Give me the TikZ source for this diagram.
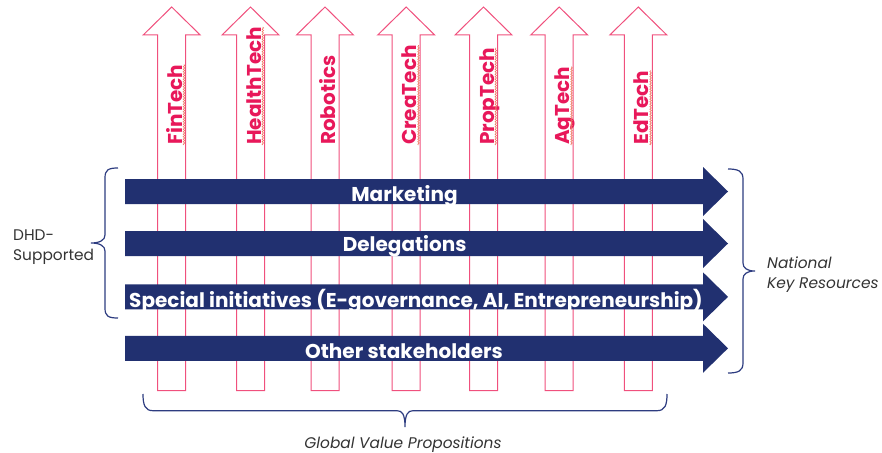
\documentclass[tikz,border=0pt]{standalone}
\usepackage{fontspec}
\setmainfont{Poppins}
\usetikzlibrary{decorations.pathmorphing}
\definecolor{navy}{RGB}{33,48,112}
\definecolor{pinkline}{RGB}{240,80,125}
\definecolor{pinktext}{RGB}{232,24,90}
\definecolor{bracecol}{RGB}{45,60,128}
\definecolor{greytext}{RGB}{51,51,51}
\definecolor{squig}{RGB}{240,120,100}
\tikzset{
  uparrow/.style={draw=pinkline, fill=white, line width=1pt},
  pinklab/.style={text=pinktext, font=\fontsize{20}{24}\selectfont\bfseries, inner sep=0pt, rotate=90, anchor=base west},
  squiggle/.style={draw=squig, line width=0.6pt, decorate, decoration={snake, segment length=2.5pt, amplitude=0.8pt}},
  bluelab/.style={text=white, font=\fontsize{20}{24}\selectfont\bfseries, inner sep=0pt, anchor=base},
  bracestyle/.style={draw=bracecol, line width=1.2pt},
  sidelab/.style={text=greytext, font=\fontsize{15.4}{19}\selectfont, inner sep=0pt, anchor=base west},
  sidelabit/.style={sidelab, font=\fontsize{15.4}{19}\selectfont\itshape},
}
\begin{document}
\begin{tikzpicture}[x=1pt,y=-1pt]
\useasboundingbox (0,0) rectangle (882,452);
% pink upward arrows
\foreach \n/\cx/\lab/\sq in {fin/171.7/FinTech/1, health/250.5/HealthTech/1, robo/325/Robotics/0, crea/406.2/CreaTech/1, prop/483.5/PropTech/1, ag/559.2/AgTech/1, ed/638.3/EdTech/1}{
  \draw[uparrow] (\cx-14,390.7) -- (\cx-14,35) -- (\cx-28.5,35) -- (\cx,7) -- (\cx+28.5,35) -- (\cx+14,35) -- (\cx+14,390.7) -- cycle;
  \node[pinklab] (\n) at (\cx+10.5,145) {\lab};
  \ifnum\sq=1
    \draw[squiggle] ([xshift=1.8pt]\n.base west) -- ([xshift=1.8pt]\n.base east);
  \fi
}
% blue horizontal arrows
\foreach \n/\cy/\bl/\tx/\lab in {mkt/191.5/201/404.5/Marketing, del/243.5/251/404.7/Delegations, spec/296.8/307.6/416/{Special initiatives (E-governance, AI, Entrepreneurship)}, other/348.3/358/404/Other stakeholders}{
  \fill[navy] (125,\cy-12.5) -- (703,\cy-12.5) -- (703,\cy-24.5) -- (728,\cy) -- (703,\cy+24.5) -- (703,\cy+12.5) -- (125,\cy+12.5) -- cycle;
  \begin{scope}
    \clip (125,\cy-12.5) -- (703,\cy-12.5) -- (703,\cy-24.5) -- (728,\cy) -- (703,\cy+24.5) -- (703,\cy+12.5) -- (125,\cy+12.5) -- cycle;
    \node[bluelab] (\n) at (\tx,\bl) {\lab};
  \end{scope}
}
% left brace
\draw[bracestyle] (118,168) .. controls (108,168) and (105,170) .. (105,178) -- (105,235) .. controls (105,240) and (100,243) .. (91,243) .. controls (100,243) and (105,246) .. (105,251) -- (105,308) .. controls (105,316) and (108,318) .. (118,318);
% right brace
\draw[bracestyle] (728,169) .. controls (738,169) and (743,171) .. (743,179) -- (743,263) .. controls (743,268) and (747,271) .. (755,271) .. controls (747,271) and (743,274) .. (743,279) -- (743,363) .. controls (743,371) and (738,373) .. (728,373);
% bottom brace
\draw[bracestyle] (143,394) .. controls (143,405) and (145,410.7) .. (153,410.7) -- (397,410.7) .. controls (402,410.7) and (405,414) .. (405,427) .. controls (405,414) and (408,410.7) .. (413,410.7) -- (657,410.7) .. controls (665,410.7) and (667,405) .. (667,394);
% labels
\node[sidelab] (dhd1) at (13,240) {DHD-};
\node[sidelab] (dhd2) at (13,260) {Supported};
\node[sidelabit] (nat1) at (767,268.3) {National};
\node[sidelabit] (nat2) at (767,288.3) {Key Resources};
\node[sidelabit, anchor=base] (gvp) at (403,448) {Global Value Propositions};
\end{tikzpicture}
\end{document}
